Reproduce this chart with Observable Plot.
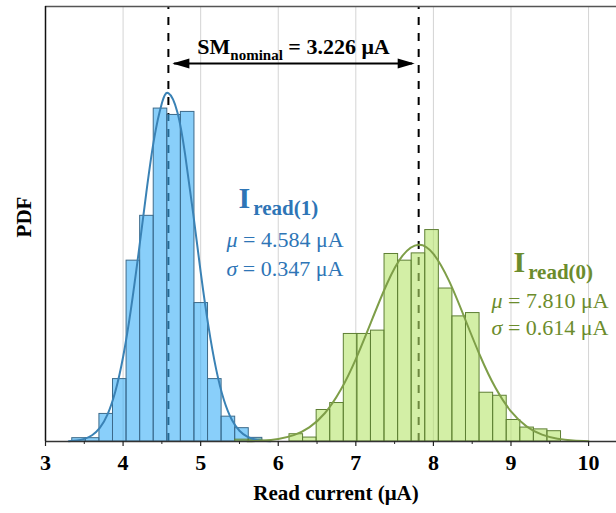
<!DOCTYPE html>
<html><head><meta charset="utf-8">
<script src="https://cdn.jsdelivr.net/npm/d3@7"></script>
<script src="https://cdn.jsdelivr.net/npm/@observablehq/plot@0.6"></script>
<style>html,body{margin:0;padding:0;background:#fff}</style>
</head><body><div id="chart"></div>
<script>
// ---- data ----
const binStarts = [3.345,3.52,3.695,3.87,4.045,4.22,4.395,4.57,4.745,4.92,5.095,5.27,5.445,5.62,5.795,5.97,6.145,6.32,6.495,6.67,6.845,7.02,7.195,7.37,7.545,7.72,7.895,8.07,8.245,8.42,8.595,8.77,8.945,9.12,9.295,9.47];
const binWidth = 0.175;
const read1Density = [0.011,0.011,0.091,0.206,0.597,0.745,1.099,1.078,1.088,0.457,0.206,0.082,0.044,0.012,0,0,0,0,0,0,0,0,0,0,0,0,0,0,0,0,0,0,0,0,0,0];
const read0Density = [0,0,0,0,0,0,0,0,0,0,0,0,0.006,0.006,0,0,0.024,0.013,0.104,0.127,0.355,0.355,0.366,0.619,0.597,0.621,0.698,0.505,0.413,0.424,0.161,0.151,0.071,0.046,0.040,0.034];
const read1FitX = [3.3,3.4,3.5,3.6,3.7,3.8,3.9,4.0,4.1,4.2,4.3,4.4,4.5,4.584,4.7,4.8,4.9,5.0,5.1,5.2,5.3,5.4,5.5,5.6,5.7,5.8,5.9];
const read1FitPdf = [0.0012,0.0034,0.0087,0.0206,0.0448,0.0896,0.1648,0.279,0.4347,0.623,0.8225,0.999,1.1165,1.1497,1.0872,0.947,0.7595,0.560,0.3806,0.238,0.1368,0.0724,0.0353,0.0158,0.0065,0.0025,0.0009];
const read0FitX = [5.6,5.8,6.0,6.2,6.4,6.6,6.8,7.0,7.2,7.4,7.6,7.81,8.0,8.2,8.4,8.6,8.8,9.0,9.2,9.4,9.6,9.8,10.0];
const read0FitPdf = [0.0010,0.0031,0.0084,0.0209,0.0465,0.0932,0.168,0.2722,0.3966,0.5199,0.6128,0.6497,0.6193,0.531,0.4094,0.2839,0.1771,0.0993,0.0501,0.0227,0.0093,0.0034,0.0011];
const xTicks = [3,4,5,6,7,8,9,10];
const xMinorTicks = [3.5,4.5,5.5,6.5,7.5,8.5,9.5];
const gridTicks = [4,5,6,7,8,9,10];
const meanRead1 = 4.584, sdRead1 = 0.347;
const meanRead0 = 7.810, sdRead0 = 0.614;
const smNominal = 3.226;
const xLabel = "Read current (μA)";
const yLabel = "PDF";

// ---- annotation anchors (data units) ----
const yTop = 1.436;
const arrowY = 1.248, smY = 1.301;
const r1 = {x: 5.488, yI: 0.804, xs: 5.333, yMu: 0.664, ySd: 0.571};
const r0 = {x: 9.032, yI: 0.590, xs: 8.749, yMu: 0.4655, ySd: 0.376};

const blueText = "#2E75B6", greenText = "#6C8C2C";
const serif = "'Liberation Serif','Times New Roman',serif";

const bins = binStarts.map((x1, i) => ({x1, x2: x1 + binWidth, b: read1Density[i], g: read0Density[i]}));
const fit1 = read1FitX.map((x, i) => ({x, y: read1FitPdf[i]}));
const fit0 = read0FitX.map((x, i) => ({x, y: read0FitPdf[i]}));

const headLeft = {draw(ctx){ ctx.moveTo(0,0); ctx.lineTo(17,-5); ctx.lineTo(17,5); ctx.closePath(); }};
const headRight = {draw(ctx){ ctx.moveTo(0,0); ctx.lineTo(-17,-5); ctx.lineTo(-17,5); ctx.closePath(); }};

const smText = `SM_nominal = ${smNominal.toFixed(3)} μA`;
const mu1 = `μ = ${meanRead1.toFixed(3)} μA`, sd1 = `σ = ${sdRead1.toFixed(3)} μA`;
const mu0 = `μ = ${meanRead0.toFixed(3)} μA`, sd0 = `σ = ${sdRead0.toFixed(3)} μA`;

const svg = Plot.plot({
  width: 616, height: 513,
  marginLeft: 45, marginRight: 0, marginTop: 6, marginBottom: 72,
  x: {domain: [3, 10.36]},
  y: {domain: [0, yTop], axis: null},
  style: {fontFamily: serif, background: "white", overflow: "visible"},
  marks: [
    Plot.gridX(gridTicks, {stroke: "#d4d4d4", strokeOpacity: 1, strokeWidth: 1}),
    Plot.ruleX([meanRead1, meanRead0], {y1: 0, y2: yTop, stroke: "black", strokeWidth: 2, strokeDasharray: "8,8"}),
    Plot.rectY(bins.filter(d => d.b > 0), {x1: "x1", x2: "x2", y: "b", fill: "#3AAFF7", fillOpacity: 0.6, stroke: "#3D6A8A", strokeWidth: 1}),
    Plot.rectY(bins.filter(d => d.g > 0), {x1: "x1", x2: "x2", y: "g", fill: "#B5E46B", fillOpacity: 0.6, stroke: "#5E7F34", strokeWidth: 1}),
    Plot.line(fit1, {x: "x", y: "y", stroke: "#3A82B5", strokeWidth: 2, curve: "natural"}),
    Plot.line(fit0, {x: "x", y: "y", stroke: "#7E9E48", strokeWidth: 2, curve: "natural"}),
    Plot.ruleY([yTop], {stroke: "#555", strokeWidth: 1.5}),
    Plot.ruleX([3], {stroke: "#111", strokeWidth: 1.5}),
    Plot.ruleY([0], {stroke: "#333", strokeWidth: 1.5}),
    Plot.axisX(xTicks, {tickSize: 5, tickPadding: 8, fontSize: 22, fontWeight: "bold", label: null, stroke: "#222", strokeWidth: 1.2, fontFamily: serif}),
    Plot.axisX(xMinorTicks, {tickSize: 3, tickFormat: () => "", label: null, stroke: "#222", strokeWidth: 1}),
    // SM arrow
    Plot.ruleY([arrowY], {x1: meanRead1, x2: meanRead0, insetLeft: 6, insetRight: 6, stroke: "black", strokeWidth: 2}),
    Plot.dot([meanRead1], {x: d => d, y: arrowY, symbol: headLeft, fill: "black", stroke: "none", dx: 4}),
    Plot.dot([meanRead0], {x: d => d, y: arrowY, symbol: headRight, fill: "black", stroke: "none", dx: -4}),
    Plot.text([smText], {x: (meanRead1 + meanRead0) / 2, y: smY, text: d => d, fontSize: 22, fontWeight: "bold", fill: "black", textAnchor: "middle", fontFamily: serif}),
    // Iread(1)
    Plot.text(["I_read(1)"], {x: r1.x, y: r1.yI, text: d => d, fontSize: 30, fontWeight: "bold", fill: blueText, textAnchor: "start", fontFamily: serif}),
    Plot.text([mu1], {x: r1.xs, y: r1.yMu, text: d => d, fontSize: 22, fill: blueText, textAnchor: "start", fontFamily: serif}),
    Plot.text([sd1], {x: r1.xs, y: r1.ySd, text: d => d, fontSize: 22, fill: blueText, textAnchor: "start", fontFamily: serif}),
    // Iread(0)
    Plot.text(["I_read(0)"], {x: r0.x, y: r0.yI, text: d => d, fontSize: 30, fontWeight: "bold", fill: greenText, textAnchor: "start", fontFamily: serif}),
    Plot.text([mu0], {x: r0.xs, y: r0.yMu, text: d => d, fontSize: 22, fill: greenText, textAnchor: "start", fontFamily: serif}),
    Plot.text([sd0], {x: r0.xs, y: r0.ySd, text: d => d, fontSize: 22, fill: greenText, textAnchor: "start", fontFamily: serif}),
    // axis titles
    Plot.text([xLabel], {frameAnchor: "bottom", lineAnchor: "middle", textAnchor: "middle", dx: 5, dy: 52, text: d => d, fontSize: 21, fontWeight: "bold", fill: "black", fontFamily: serif}),
    Plot.text([yLabel], {frameAnchor: "left", lineAnchor: "middle", textAnchor: "middle", rotate: -90, dx: -21, dy: -7, text: d => d, fontSize: 21, fontWeight: "bold", fill: "black", fontFamily: serif})
  ]
});

// rich text: subscripts and italic symbols
const rich = {
  [smText]: [["SM", {}], ["nominal", {size: 15, dy: 6}], [smText.slice(10), {dy: -6}]],
  "I_read(1)": [["I", {}], ["read(1)", {size: 21, dy: 7, dx: 3}]],
  "I_read(0)": [["I", {}], ["read(0)", {size: 21, dy: 7, dx: 3}]],
  [mu1]: [["μ", {italic: true}], [mu1.slice(1), {}]],
  [sd1]: [["σ", {italic: true}], [sd1.slice(1), {}]],
  [mu0]: [["μ", {italic: true}], [mu0.slice(1), {}]],
  [sd0]: [["σ", {italic: true}], [sd0.slice(1), {}]]
};
d3.select(svg).selectAll("text").each(function() {
  const spec = rich[this.textContent];
  if (!spec) return;
  this.textContent = "";
  for (const [t, o] of spec) {
    const ts = d3.select(this).append("tspan").text(t);
    if (o.size) ts.attr("font-size", o.size);
    if (o.dy) ts.attr("dy", o.dy);
    if (o.dx) ts.attr("dx", o.dx);
    if (o.italic) ts.attr("font-style", "italic");
  }
});
document.getElementById("chart").appendChild(svg);
</script>
</body></html>
